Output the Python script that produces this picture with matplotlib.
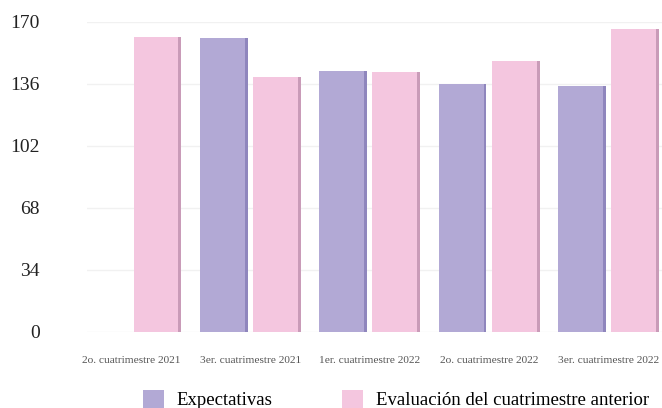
import numpy as np
import matplotlib
matplotlib.use("Agg")
import matplotlib.pyplot as plt

periodos = ["2o. cuatrimestre 2021", "3er. cuatrimestre 2021", "1er. cuatrimestre 2022",
            "2o. cuatrimestre 2022", "3er. cuatrimestre 2022"]
expectativas = [np.nan, 161, 143, 136, 135]
evaluacion = [162, 140, 142.5, 148.5, 166]
yticks = [0, 34, 68, 102, 136, 170]

color_exp = "#b2a9d5"
color_eval = "#f4c6df"

fig = plt.figure(figsize=(6.62, 4.08), dpi=100)
ax = fig.add_axes([87 / 662, 1 - 332 / 408, (662 - 87) / 662, 310 / 408])

x = np.arange(len(periodos))
w = 0.40
off = 0.222
ax.bar(x - off, expectativas, w, color=color_exp, edgecolor="none",
       label="Expectativas", zorder=2)
ax.bar(x + off, evaluacion, w, color=color_eval, edgecolor="none",
       label="Evaluación del cuatrimestre anterior", zorder=2)
# darker strip on the right side of each bar (shadow)
sw = 0.025
ax.bar(x - off + w / 2 - sw / 2, expectativas, sw, color="#8f86bd", zorder=3)
ax.bar(x + off + w / 2 - sw / 2, evaluacion, sw, color="#c99bb8", zorder=3)

ax.set_xlim(-0.368, 4.448)
ax.set_ylim(0, 170)
ax.set_yticks(yticks)
ax.set_yticklabels([str(v) for v in yticks], family="Liberation Serif", fontsize=14,
                   color="#222222")
ax.set_xticks(x)
ax.set_xticklabels(periodos, family="Liberation Serif", fontsize=8.2, color="#555555")
ax.tick_params(axis="y", length=0, pad=34)
ax.tick_params(axis="x", length=0, pad=17)
ax.grid(axis="y", color="#f1f1f1", linewidth=1, zorder=0)
for s in ax.spines.values():
    s.set_visible(False)

fig.legend(loc="center", bbox_to_anchor=(0.598, 0.021), ncol=2, frameon=False,
           prop={"family": "Liberation Serif", "size": 13.5}, handlelength=1.1,
           handleheight=1.1, columnspacing=3.7, handletextpad=0.7)

fig.savefig("out.png", dpi=100)
